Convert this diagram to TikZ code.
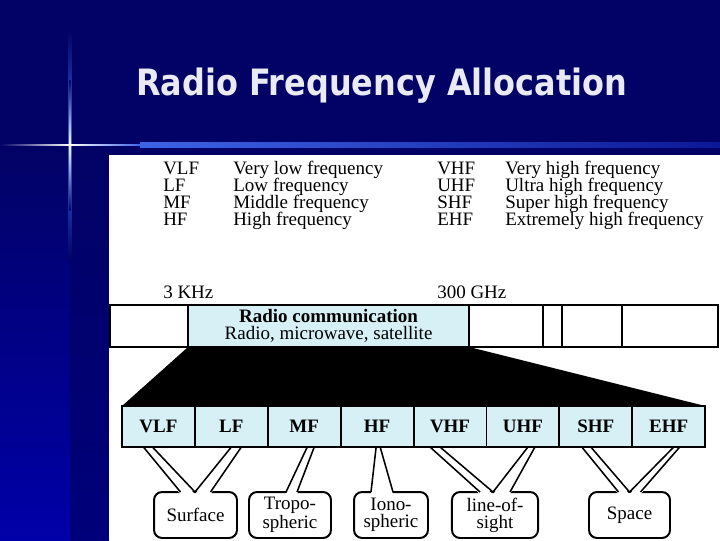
\documentclass[tikz,border=0pt]{standalone}
\usepackage{fontspec}
\setmainfont{Liberation Serif}
\newfontfamily\titlefont[FakeStretch=0.88]{DejaVu Sans}
\usetikzlibrary{positioning, calc}

\definecolor{slidenavy}{RGB}{2,2,102}
\definecolor{stripblue}{RGB}{0,0,168}
\definecolor{stripdark}{RGB}{0,0,122}
\definecolor{glowblue}{RGB}{60,100,230}
\definecolor{bandblue}{RGB}{12,24,150}
\definecolor{cellcyan}{RGB}{214,240,246}
\definecolor{titlewhite}{RGB}{234,234,244}

% callout tail from a band cell down to a bubble
\newcommand{\tail}[6]{%
    \fill[white] ($(#1.south)+(#2,1.5)$) -- ($(#1.south)+(#3,1.5)$) -- ($(#4.north)+(#6,2.2)$) -- ($(#4.north)+(#5,2.2)$) -- cycle;
    \draw[tailline] ($(#1.south)+(#2,0)$) -- ($(#4.north)+(#5,0)$);
    \draw[tailline] ($(#1.south)+(#3,0)$) -- ($(#4.north)+(#6,0)$);
}

\begin{document}
\begin{tikzpicture}[
    x=0.025cm, y=-0.025cm,
    legend/.style={anchor=base west, inner sep=0pt, font=\fontsize{13.5}{12}\selectfont},
    barcell/.style={draw, line width=1.4pt, minimum height=29.9pt, inner sep=0pt, outer sep=0pt, align=center, font=\fontsize{13.5}{12.1}\selectfont},
    bandcell/.style={draw, line width=1.4pt, fill=cellcyan, minimum width=51.84pt, minimum height=29.2pt, inner sep=0pt, outer sep=0pt, font=\bfseries\fontsize{13.5}{12}\selectfont},
    bubble/.style={draw, line width=1.4pt, rounded corners=5.7pt, fill=white, minimum height=32.7pt, inner sep=0pt, outer sep=0pt, align=center, font=\fontsize{13.5}{12.1}\selectfont},
    tailline/.style={line width=1.1pt, line join=round}
]
    \useasboundingbox (0,0) rectangle (720,540);

    % Slide background
    \fill[slidenavy] (0,0) rectangle (720,540);
    \shade[top color=slidenavy, bottom color=stripblue] (0,150) rectangle (70,540);
    \shade[top color=slidenavy, bottom color=stripdark] (70,150) rectangle (109,540);

    % Sparkle
    \shade[top color=slidenavy, bottom color=slidenavy, middle color=glowblue] (68.5,30) rectangle (71.5,260);
    \shade[top color=slidenavy, bottom color=slidenavy, middle color=white] (69.4,80) rectangle (70.6,210);
    \shade[left color=slidenavy, right color=glowblue, middle color=white] (0,144.3) rectangle (140,145.7);
    \shade[left color=glowblue, right color=bandblue] (140,142.5) rectangle (720,147.5);

    % Title
    \node[font=\titlefont\bfseries\fontsize{25.8}{30}\selectfont, text=titlewhite, anchor=base] (title) at (381.5,95) {Radio Frequency Allocation};

    % White panel
    \fill[white] (109,155) rectangle (720,540);

    % Legend
    \node[legend] (abbr1) at (163,174) {VLF};
    \node[legend] (desc1) at (233,174) {Very low frequency};
    \node[legend] (abbr2) at (163,191) {LF};
    \node[legend] (desc2) at (233,191) {Low frequency};
    \node[legend] (abbr3) at (163,208) {MF};
    \node[legend] (desc3) at (233,208) {Middle frequency};
    \node[legend] (abbr4) at (163,225) {HF};
    \node[legend] (desc4) at (233,225) {High frequency};
    \node[legend] (abbr5) at (437,174) {VHF};
    \node[legend] (desc5) at (505,174) {Very high frequency};
    \node[legend] (abbr6) at (437,191) {UHF};
    \node[legend] (desc6) at (505,191) {Ultra high frequency};
    \node[legend] (abbr7) at (437,208) {SHF};
    \node[legend] (desc7) at (505,208) {Super high frequency};
    \node[legend] (abbr8) at (437,225) {EHF};
    \node[legend] (desc8) at (505,225) {Extremely high frequency};

    % Range limits
    \node[legend] (lowlimit) at (163,298) {3 KHz};
    \node[legend] (highlimit) at (437,298) {300 GHz};

    % Spectrum bar
    \node[barcell, minimum width=55.5pt] (bar0) at (149,326) {};
    \node[barcell, fill=cellcyan, minimum width=199.9pt, right=0pt of bar0] (radio) {\textbf{Radio communication}\\Radio, microwave, satellite};
    \node[barcell, minimum width=52.6pt, right=0pt of radio] (bar2) {};
    \node[barcell, minimum width=13.5pt, right=0pt of bar2] (bar3) {};
    \node[barcell, minimum width=42.7pt, right=0pt of bar3] (bar4) {};
    \node[barcell, minimum width=68.3pt, right=0pt of bar4] (bar5) {};

    % Radio bands
    \node[bandcell] (vlf) at (158.44,426.5) {VLF};
    \node[bandcell, right=0pt of vlf] (lf) {LF};
    \node[bandcell, right=0pt of lf] (mf) {MF};
    \node[bandcell, right=0pt of mf] (hf) {HF};
    \node[bandcell, right=0pt of hf] (vhf) {VHF};
    \node[bandcell, right=0pt of vhf] (uhf) {UHF};
    \node[bandcell, right=0pt of uhf] (shf) {SHF};
    \node[bandcell, right=0pt of shf] (ehf) {EHF};

    % Expansion wedge
    \fill[black] (radio.south west) -- (radio.south east) -- (ehf.north east) -- (vlf.north west) -- cycle;

    % Propagation bubbles
    \node[bubble, minimum width=59pt] (surface) at (195.5,515) {Surface};
    \node[bubble, minimum width=58.3pt] (tropo) at (290,515) {Tropo-\\spheric};
    \node[bubble, minimum width=52.6pt] (iono) at (391,515) {Iono-\\spheric};
    \node[bubble, minimum width=61.2pt] (los) at (495,515) {line-of-\\sight};
    \node[bubble, minimum width=57.6pt] (space) at (629.5,515) {Space};

    % Tails
    \tail{vlf}{-15}{-6}{surface}{-15}{-0.5}
    \tail{lf}{0}{10}{surface}{-0.5}{15}
    \tail{mf}{3}{10}{tropo}{-4}{7}
    \tail{hf}{-1}{3}{iono}{-20}{2}
    \tail{vhf}{-20}{-10}{los}{-15}{-2}
    \tail{uhf}{5}{12}{los}{-2}{15}
    \tail{shf}{-14}{-5}{space}{-11}{0}
    \tail{ehf}{5}{11}{space}{0}{11}
\end{tikzpicture}
\end{document}
